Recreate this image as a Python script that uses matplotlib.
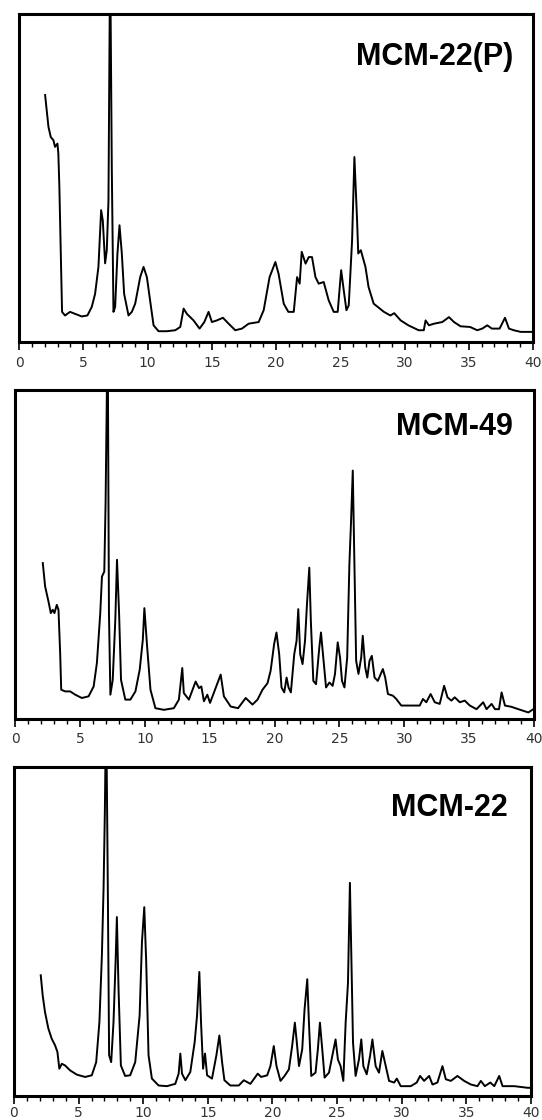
import matplotlib
matplotlib.use("Agg")
import matplotlib.pyplot as plt
from matplotlib.ticker import MultipleLocator

# XRD patterns: 2-theta (deg) and intensity (% of panel height)
names = ["MCM-22(P)", "MCM-49", "MCM-22"]

tt_p = [2.03, 2.29, 2.47, 2.68, 2.80, 2.99, 3.06, 3.14, 3.25, 3.35, 3.58, 3.97, 4.36, 4.88,
        5.32, 5.66, 5.92, 6.18, 6.39, 6.52, 6.70, 6.83, 6.96, 7.09, 7.22, 7.35, 7.48, 7.66,
        7.82, 8.00, 8.18, 8.52, 8.78, 9.04, 9.43, 9.69, 9.95, 10.2, 10.47, 10.86, 11.5,
        12.16, 12.55, 12.81, 13.06, 13.58, 14.05, 14.42, 14.75, 15.01, 15.4, 15.87, 16.31,
        16.83, 17.35, 17.87, 18.65, 19.04, 19.5, 19.95, 20.2, 20.6, 20.96, 21.38, 21.64,
        21.84, 22.0, 22.3, 22.55, 22.8, 23.07, 23.32, 23.71, 24.1, 24.49, 24.8, 25.07,
        25.27, 25.48, 25.66, 25.92, 26.1, 26.3, 26.4, 26.6, 26.96, 27.2, 27.6, 28.4, 28.9,
        29.2, 29.7, 30.3, 31.1, 31.5, 31.64, 31.9, 32.3, 32.94, 33.46, 33.85, 34.36, 35.1,
        35.66, 36.05, 36.44, 36.8, 37.4, 37.82, 38.13, 38.5, 39.04, 39.95]
int_p = [75.3, 65.6, 62.5, 61.5, 59.5, 60.5, 57.5, 47.3, 27.0, 9.2, 8.1, 9.2, 8.6, 7.8,
         8.1, 10.7, 14.7, 22.9, 40.2, 37.0, 24.0, 28.0, 43.0, 120.0, 53.0, 9.2, 10.7, 27.0,
         35.6, 27.0, 14.7, 8.1, 9.2, 11.7, 19.8, 22.9, 19.8, 12.7, 5.1, 3.3, 3.3,
         3.6, 4.6, 10.2, 8.6, 6.6, 4.1, 6.1, 9.2, 6.1, 6.6, 7.4, 5.6,
         3.6, 4.1, 5.6, 6.1, 9.7, 19.8, 24.4, 20.8, 11.7, 9.2, 9.2, 19.8,
         17.8, 27.5, 23.9, 25.9, 25.9, 19.8, 17.8, 18.3, 12.7, 9.2, 9.2, 21.9,
         15.8, 9.7, 11.2, 31.0, 56.4, 38.0, 27.0, 28.0, 22.9, 16.8, 11.7, 9.2, 8.1,
         8.8, 6.6, 5.1, 3.6, 3.6, 6.6, 5.1, 5.6, 6.1, 7.6, 6.1, 4.8, 4.6,
         3.6, 4.1, 5.1, 4.1, 4.1, 7.4, 4.1, 3.6, 3.1, 3.1]

tt_49 = [2.14, 2.32, 2.58, 2.76, 2.91, 3.04, 3.22, 3.35, 3.48, 3.56, 3.87, 4.25, 4.64, 5.15,
         5.67, 6.06, 6.31, 6.57, 6.70, 6.88, 6.98, 7.14, 7.24, 7.35, 7.53, 7.73, 7.86, 8.02,
         8.17, 8.5, 8.89, 9.28, 9.61, 9.85, 9.97, 10.18, 10.44, 10.82, 11.47, 12.24, 12.63,
         12.89, 13.01, 13.4, 13.92, 14.18, 14.36, 14.56, 14.82, 15.03, 15.46, 15.85, 16.1,
         16.62, 17.19, 17.78, 18.3, 18.69, 19.07, 19.46, 19.7, 19.97, 20.15, 20.36, 20.54,
         20.75, 20.93, 21.08, 21.26, 21.52, 21.7, 21.83, 21.98, 22.16, 22.35, 22.5, 22.68,
         22.8, 22.99, 23.2, 23.45, 23.58, 23.76, 23.97, 24.23, 24.48, 24.66, 24.87, 25.05,
         25.2, 25.39, 25.6, 25.77, 25.9, 26.03, 26.16, 26.29, 26.47, 26.68, 26.8, 26.99,
         27.15, 27.32, 27.5, 27.71, 27.96, 28.35, 28.53, 28.74, 29.12, 29.38, 29.77, 30.54,
         31.19, 31.44, 31.7, 32.03, 32.35, 32.73, 33.07, 33.33, 33.63, 33.89, 34.28, 34.66,
         35.05, 35.57, 36.08, 36.34, 36.73, 36.99, 37.3, 37.5, 37.76, 38.27, 38.79, 39.56, 39.95]
int_49 = [47.4, 40.3, 35.7, 32.2, 33.2, 32.2, 34.7, 33.2, 20.0, 8.9, 8.4, 8.4, 7.4, 6.4,
          6.9, 9.9, 17.0, 32.2, 43.3, 44.8, 65.6, 120.0, 32.2, 7.4, 11.9, 30.2, 48.4, 32.2,
          11.9, 5.9, 5.9, 8.4, 15.0, 24.1, 33.7, 22.1, 8.9, 3.3, 2.8, 3.3, 5.9,
          15.5, 7.9, 5.9, 11.4, 9.4, 9.9, 5.4, 7.4, 4.9, 9.4, 13.5, 6.9,
          3.8, 3.3, 6.4, 4.4, 5.9, 8.9, 10.9, 14.7, 22.8, 26.3, 19.7, 9.6,
          8.1, 12.6, 9.6, 8.1, 19.7, 23.8, 33.4, 19.7, 16.7, 23.8, 34.9, 46.0,
          29.8, 11.6, 10.6, 21.7, 26.3, 18.7, 9.6, 11.1, 10.1, 13.7, 23.3, 18.7,
          11.6, 9.6, 18.7, 47.1, 60.3, 75.5, 47.1, 17.7, 13.7, 18.7, 25.3, 15.7,
          12.6, 17.7, 19.2, 12.6, 11.6, 15.2, 12.6, 7.6, 7.1, 6.1, 4.1, 4.1,
          4.1, 6.1, 5.1, 7.6, 5.1, 4.6, 10.1, 6.6, 5.6, 6.6, 5.1, 5.6,
          4.1, 3.0, 5.1, 3.0, 4.6, 3.0, 3.0, 8.1, 4.1, 3.7, 3.0, 2.0, 3.0]

tt_22 = [2.07, 2.22, 2.40, 2.66, 2.92, 3.18, 3.36, 3.51, 3.70, 3.95, 4.34, 4.86, 5.50, 6.02,
         6.36, 6.61, 6.80, 6.93, 7.03, 7.13, 7.26, 7.36, 7.52, 7.70, 7.86, 7.96, 8.09, 8.27,
         8.60, 8.99, 9.38, 9.72, 9.90, 10.08, 10.23, 10.41, 10.67, 11.19, 11.83, 12.48, 12.74,
         12.87, 13.0, 13.26, 13.64, 13.98, 14.16, 14.34, 14.47, 14.63, 14.78, 14.94, 15.32,
         15.66, 15.89, 16.1, 16.28, 16.74, 17.39, 17.78, 18.29, 18.86, 19.12, 19.59, 19.84,
         20.1, 20.31, 20.62, 20.93, 21.27, 21.52, 21.73, 21.86, 22.05, 22.3, 22.48, 22.69,
         22.82, 23.0, 23.33, 23.51, 23.67, 23.85, 24.03, 24.37, 24.63, 24.88, 25.06, 25.27,
         25.48, 25.66, 25.84, 25.99, 26.1, 26.23, 26.43, 26.69, 26.87, 27.03, 27.29, 27.55,
         27.73, 27.98, 28.24, 28.5, 28.76, 29.02, 29.41, 29.62, 29.92, 30.7, 31.16, 31.42,
         31.73, 32.12, 32.38, 32.76, 33.15, 33.41, 33.8, 34.31, 34.83, 35.35, 35.86, 36.12,
         36.43, 36.85, 37.16, 37.54, 37.8, 38.71, 39.74, 40.0]
int_22 = [36.7, 30.6, 25.5, 20.5, 17.4, 15.4, 13.4, 8.3, 9.8, 9.3, 7.8, 6.5, 5.8, 6.3,
          10.3, 22.5, 42.7, 63.0, 86.3, 120.0, 63.0, 12.4, 10.3, 22.5, 40.7, 54.4, 32.4, 9.3,
          6.1, 6.3, 10.3, 24.5, 46.8, 57.4, 40.7, 12.4, 5.3, 3.2, 3.0, 3.7, 6.8,
          12.9, 6.8, 4.8, 7.3, 16.4, 24.3, 37.7, 22.5, 8.3, 12.9, 6.3, 5.3,
          12.4, 18.4, 10.3, 4.8, 3.2, 3.2, 4.8, 3.7, 6.8, 5.8, 6.3, 9.1,
          15.2, 9.1, 4.6, 6.1, 8.1, 15.2, 22.3, 17.2, 9.1, 14.2, 26.3, 35.5,
          22.3, 6.1, 7.1, 14.2, 22.3, 14.2, 5.6, 7.1, 12.2, 17.2, 11.1, 9.1,
          4.6, 22.3, 34.4, 64.8, 42.5, 16.2, 6.1, 11.1, 17.2, 9.1, 6.6, 12.2,
          17.2, 9.1, 7.1, 13.7, 9.1, 4.6, 4.1, 5.3, 3.0, 3.0, 4.1, 6.1,
          4.6, 6.1, 3.5, 4.1, 9.1, 5.1, 4.6, 6.1, 4.6, 3.5, 3.0, 4.6,
          3.0, 4.1, 3.0, 6.1, 3.0, 3.0, 2.5, 2.5]

series = [(tt_p, int_p), (tt_49, int_49), (tt_22, int_22)]

# panel boxes [left, bottom, width, height] in figure fraction
boxes = [[0.0351, 0.6946, 0.9483, 0.2929],
         [0.0277, 0.3580, 0.9576, 0.2938],
         [0.0258, 0.0214, 0.9539, 0.2938]]
label_pos = [(0.961, 0.869), (0.960, 0.888), (0.955, 0.875)]
pads = [4, 3.5, 1.5]

fig = plt.figure(figsize=(5.42, 11.2), dpi=100)

for (x, y), box, name, lp, pd in zip(series, boxes, names, label_pos, pads):
    ax = fig.add_axes(box)
    ax.plot(x, y, color='black', lw=1.4)
    ax.set_xlim(0, 40)
    ax.set_ylim(0, 100)
    ax.set_yticks([])
    ax.xaxis.set_major_locator(MultipleLocator(5))
    ax.xaxis.set_minor_locator(MultipleLocator(1))
    ax.tick_params(axis='x', which='major', direction='out', length=6, width=1.2,
                   pad=pd, labelsize=10, labelcolor='#333333')
    ax.tick_params(axis='x', which='minor', direction='out', length=3.5, width=1.0)
    for s in ax.spines.values():
        s.set_linewidth(2.2)
    ax.text(lp[0], lp[1], name, transform=ax.transAxes, ha='right', va='center',
            fontsize=22, fontweight='bold', family=['Liberation Sans', 'DejaVu Sans'])

fig.savefig('out.png', dpi=100)
